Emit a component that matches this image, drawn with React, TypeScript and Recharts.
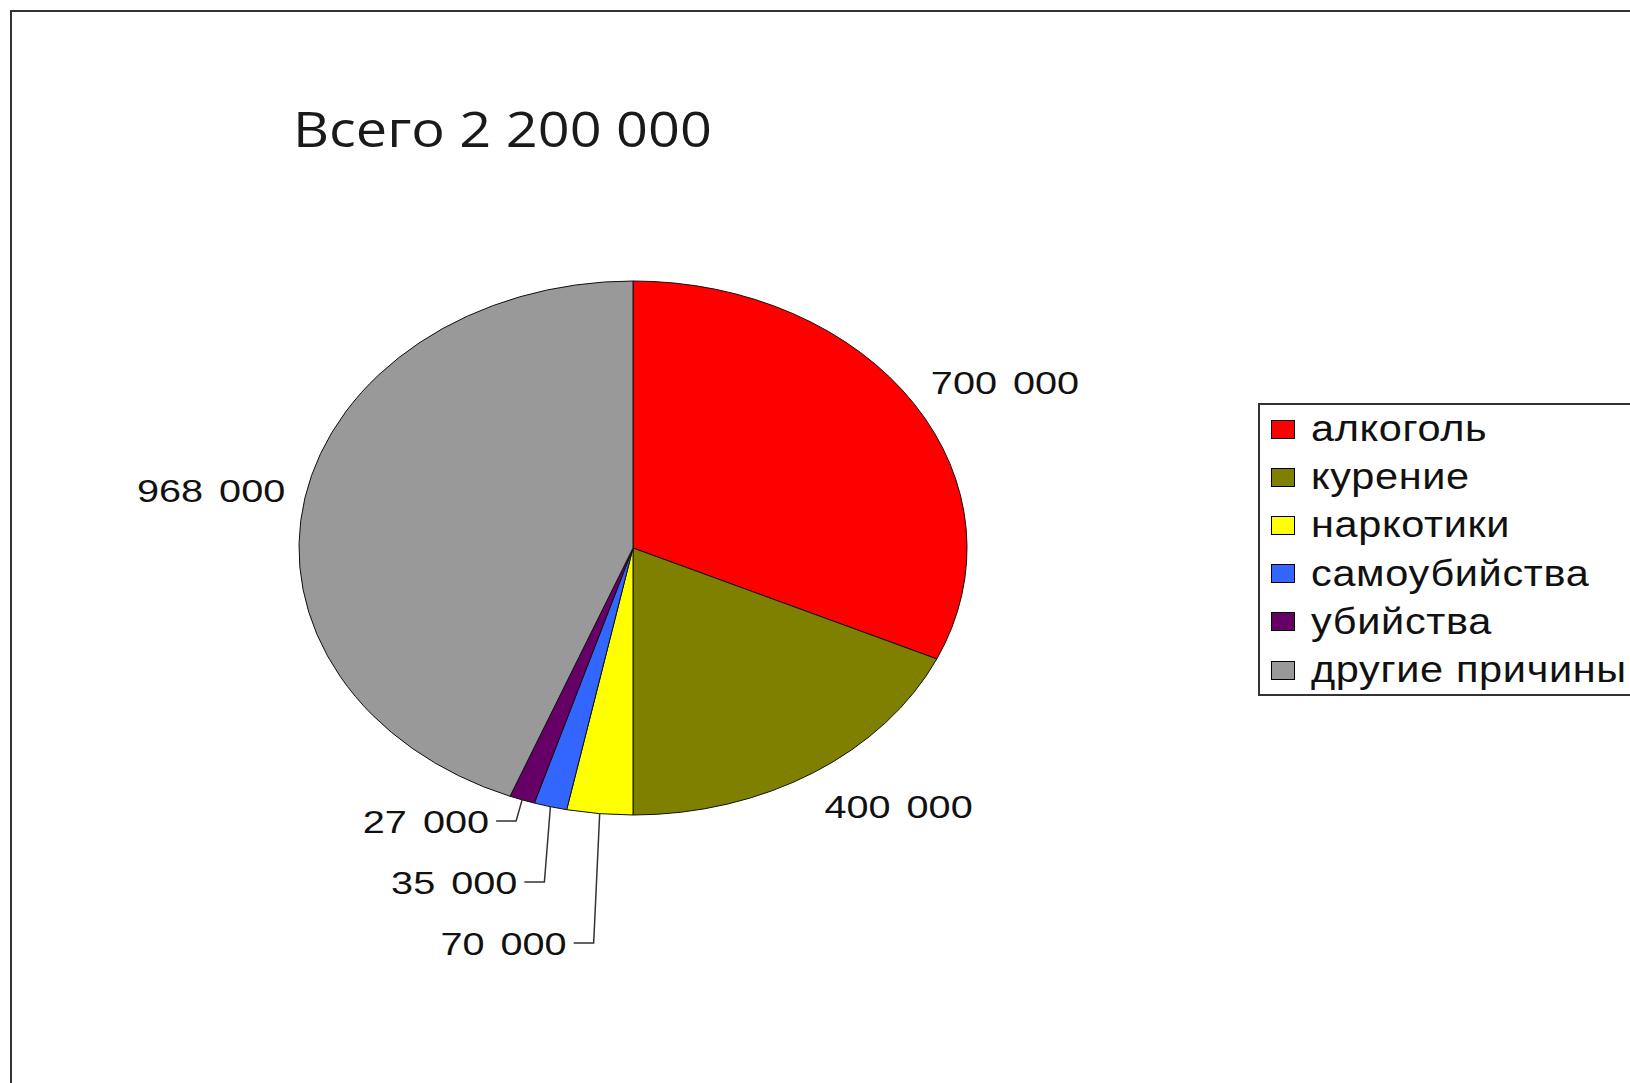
import React from 'react';
import { PieChart, Pie, Cell, Legend } from 'recharts';

// ---- data ----
const categories = ['алкоголь', 'курение', 'наркотики', 'самоубийства', 'убийства', 'другие причины'];
const deaths = [700000, 400000, 70000, 35000, 27000, 968000];
const valueLabels = ['700 000', '400 000', '70 000', '35 000', '27 000', '968 000'];
const colors = ['#FF0000', '#808000', '#FFFF00', '#3366FF', '#660066', '#999999'];
const titleText = 'Всего 2 200 000';

const data = categories.map((name, i) => ({ name, value: deaths[i], label: valueLabels[i] }));

// ---- layout / style ----
const W = 1630;
const H = 1083;
const CX = 633;
const CY = 548;
const RY = 267;
const ASPECT = 1.251; // pie is drawn as an ellipse (wider than tall)
const TEXT_STRETCH = 1.24;
const RAD = Math.PI / 180;
const LABEL_FONT = '"Liberation Sans", Arial, sans-serif';

const ellipsePt = (cx: number, cy: number, r: number, angle: number) => ({
  x: cx + r * ASPECT * Math.cos(angle * RAD),
  y: cy - r * Math.sin(angle * RAD),
});

const EllipseSector = (props: any) => {
  const { cx, cy, outerRadius, startAngle, endAngle, fill } = props;
  const rx = outerRadius * ASPECT;
  const ry = outerRadius;
  const p1 = ellipsePt(cx, cy, outerRadius, startAngle);
  const p2 = ellipsePt(cx, cy, outerRadius, endAngle);
  const delta = Math.abs(startAngle - endAngle);
  const large = delta > 180 ? 1 : 0;
  const sweep = startAngle > endAngle ? 1 : 0;
  const d = `M${cx},${cy} L${p1.x},${p1.y} A${rx},${ry} 0 ${large} ${sweep} ${p2.x},${p2.y} Z`;
  return <path d={d} fill={fill} stroke="#111" strokeWidth={1} strokeLinejoin="round" />;
};

const StretchText = ({ x, y, anchor, children, size }: any) => (
  <g transform={`translate(${x},${y}) scale(${TEXT_STRETCH},1)`}>
    <text
      x={0}
      y={0}
      textAnchor={anchor}
      fontFamily={LABEL_FONT}
      fontSize={size}
      fill="#111"
      style={{ wordSpacing: '4px' }}
    >
      {children}
    </text>
  </g>
);

const renderLabel = (props: any) => {
  const { cx, cy, midAngle, outerRadius, index } = props;
  const total = deaths.reduce((a, b) => a + b, 0);
  const share = deaths[index] / total;
  const P = ellipsePt(cx, cy, outerRadius, midAngle);
  const t = (90 - midAngle) * RAD; // clockwise from top
  const size = 32;
  const baseShift = 11.5;
  if (share < 0.05) {
    // small slices: leader line down and to the left
    let rank = 0;
    for (let j = index + 1; j < deaths.length; j++) if (deaths[j] / total < 0.05) rank++;
    const yL = cy + outerRadius + 6 + rank * 61;
    const bx = P.x - 6;
    const ex = P.x - 26;
    return (
      <g key={`lbl-${index}`}>
        <polyline
          points={`${P.x},${P.y} ${bx},${yL} ${ex},${yL}`}
          fill="none"
          stroke="#333"
          strokeWidth={1.5}
        />
        <StretchText x={ex - 7} y={yL + baseShift} anchor="end" size={size}>
          {valueLabels[index]}
        </StretchText>
      </g>
    );
  }
  const s = Math.sin(t);
  const c = Math.cos(t);
  const x = P.x + s * 20;
  const yc = P.y - c * 40;
  return (
    <StretchText key={`lbl-${index}`} x={x} y={yc + baseShift} anchor={s >= 0 ? 'start' : 'end'} size={size}>
      {valueLabels[index]}
    </StretchText>
  );
};

const renderLegend = () => (
  <div
    style={{
      border: '2px solid #333',
      background: '#fff',
      width: 420,
      boxSizing: 'border-box',
      padding: '0 0 0 11px',
    }}
  >
    {categories.map((name, i) => (
      <div key={name} style={{ height: 48.2, display: 'flex', alignItems: 'center' }}>
        <span
          style={{
            width: 24,
            height: 19,
            background: colors[i],
            border: '1px solid #000',
            boxSizing: 'border-box',
            marginRight: 16,
            flex: '0 0 auto',
          }}
        />
        <span
          style={{
            fontFamily: LABEL_FONT,
            fontSize: 37,
            lineHeight: '40px',
            letterSpacing: '0.6px',
            color: '#111',
            display: 'inline-block',
            whiteSpace: 'nowrap',
            transform: 'scaleX(1.12)',
            transformOrigin: 'left center',
          }}
        >
          {name}
        </span>
      </div>
    ))}
  </div>
);

export default function App() {
  return (
    <div
      style={{
        position: 'fixed',
        left: 0,
        top: 0,
        width: W,
        height: H,
        overflow: 'hidden',
        background: '#fff',
      }}
    >
      <div
        style={{
          position: 'absolute',
          left: 10,
          top: 10,
          width: W,
          height: H,
          borderLeft: '2px solid #333',
          borderTop: '2px solid #333',
        }}
      />
      <svg style={{ position: 'absolute', left: 0, top: 0 }} width={W} height={200}>
        <g transform={`translate(293,147) scale(1.14,1)`}>
          <text x={0} y={0} fontFamily='"Open Sans", "Noto Sans", sans-serif' fontSize={49} fill="#1a1a1a">
            {titleText}
          </text>
        </g>
      </svg>
      <div style={{ position: 'absolute', left: 0, top: 0 }}>
        <PieChart width={W} height={H} margin={{ top: 0, right: 0, bottom: 0, left: 0 }}>
          <Pie
            data={data}
            dataKey="value"
            nameKey="name"
            cx={CX}
            cy={CY}
            outerRadius={RY}
            startAngle={90}
            endAngle={-270}
            stroke="#111"
            strokeWidth={1}
            isAnimationActive={false}
            label={renderLabel}
            labelLine={false}
            shape={EllipseSector}
          >
            {data.map((d, i) => (
              <Cell key={d.name} fill={colors[i]} />
            ))}
          </Pie>
          <Legend
            content={renderLegend}
            wrapperStyle={{ position: 'absolute', left: 1258, top: 403, width: 420, margin: 0 }}
          />
        </PieChart>
      </div>
    </div>
  );
}
